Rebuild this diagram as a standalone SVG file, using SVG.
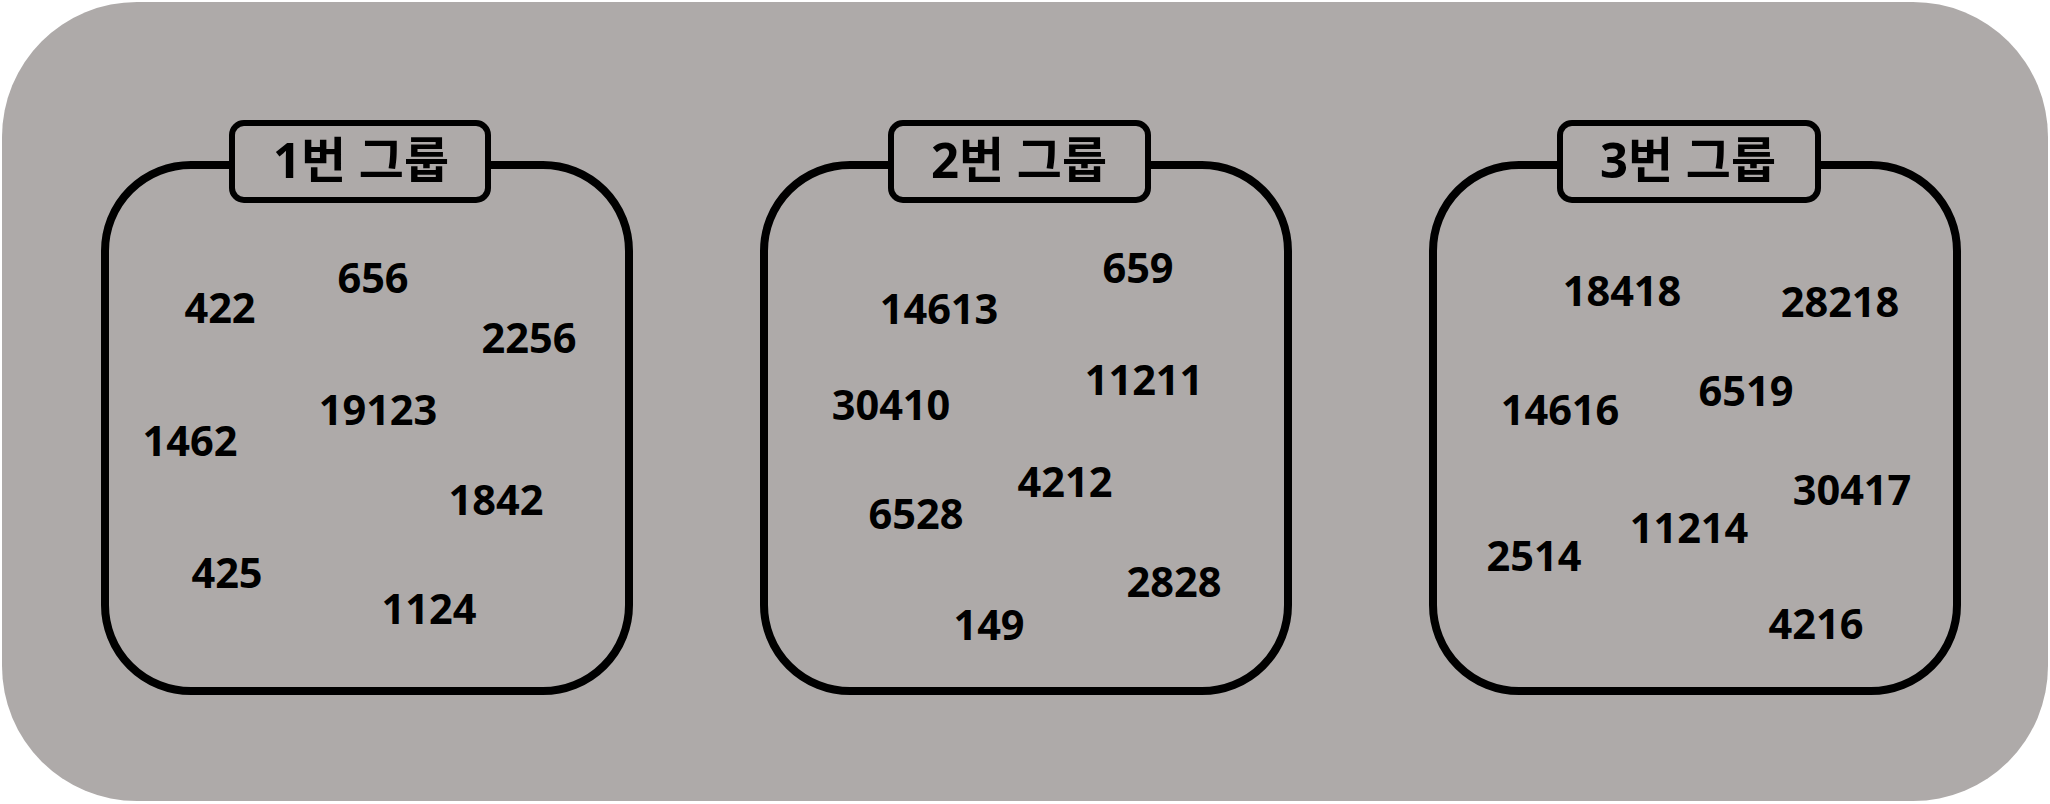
<svg xmlns="http://www.w3.org/2000/svg" width="2050" height="804" viewBox="0 0 2050 804">
<style>
.bg{fill:#AEAAA9;}
.box{fill:none;stroke:#000;stroke-width:8;}
.tab{fill:#AEAAA9;stroke:#000;stroke-width:6;}
.title{font-family:"Open Sans","Noto Sans CJK KR",sans-serif;font-weight:700;font-size:49px;fill:#000;text-anchor:middle;}
.num{font-family:"Open Sans","Noto Sans CJK KR",sans-serif;font-weight:700;font-size:41.5px;fill:#000;text-anchor:middle;}
</style>
<rect class="bg" x="2" y="2" width="2046" height="799" rx="135" ry="135"/>
<g id="group1">
<rect class="box" x="105" y="165" width="524" height="526" rx="86" ry="86"/>
<rect class="tab" x="232" y="123" width="256" height="77" rx="12" ry="12"/>
<text class="title" x="361" y="178">1번 그룹</text>
<text class="num" x="220" y="323">422</text>
<text class="num" x="373" y="293">656</text>
<text class="num" x="529" y="353">2256</text>
<text class="num" x="378" y="425">19123</text>
<text class="num" x="190" y="456">1462</text>
<text class="num" x="496" y="515">1842</text>
<text class="num" x="227" y="588">425</text>
<text class="num" x="429" y="624">1124</text>
</g>
<g id="group2">
<rect class="box" x="764" y="165" width="524" height="526" rx="86" ry="86"/>
<rect class="tab" x="891" y="123" width="257" height="77" rx="12" ry="12"/>
<text class="title" x="1019" y="178">2번 그룹</text>
<text class="num" x="1138" y="283">659</text>
<text class="num" x="939" y="324">14613</text>
<text class="num" x="1144" y="395">11211</text>
<text class="num" x="891" y="420">30410</text>
<text class="num" x="1065" y="497">4212</text>
<text class="num" x="916" y="529">6528</text>
<text class="num" x="1174" y="597">2828</text>
<text class="num" x="989" y="640">149</text>
</g>
<g id="group3">
<rect class="box" x="1433" y="165" width="524" height="526" rx="86" ry="86"/>
<rect class="tab" x="1560" y="123" width="258" height="77" rx="12" ry="12"/>
<text class="title" x="1688" y="178">3번 그룹</text>
<text class="num" x="1622" y="306">18418</text>
<text class="num" x="1840" y="317">28218</text>
<text class="num" x="1746" y="406">6519</text>
<text class="num" x="1560" y="425">14616</text>
<text class="num" x="1852" y="505">30417</text>
<text class="num" x="1689" y="543">11214</text>
<text class="num" x="1534" y="571">2514</text>
<text class="num" x="1816" y="639">4216</text>
</g>
<g id="connectors"/>
</svg>
